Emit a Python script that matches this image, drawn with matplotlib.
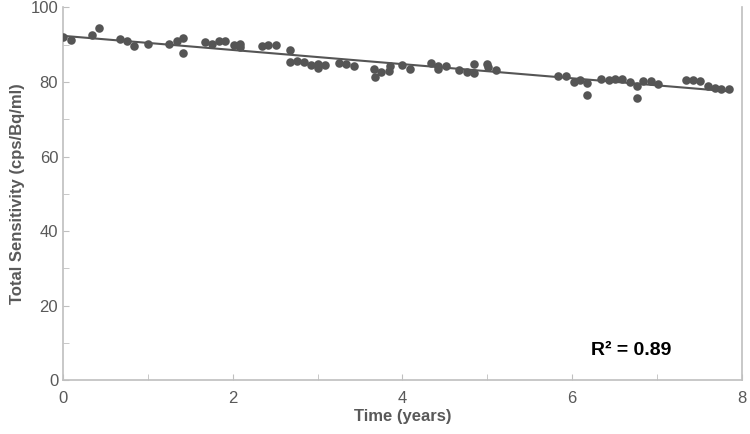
import numpy as np
import matplotlib.pyplot as plt
from matplotlib.ticker import MultipleLocator

plt.rcParams['font.family'] = ['Liberation Sans Narrow', 'Liberation Sans', 'DejaVu Sans']

# ── data ─────────────────────────────────────────────────────────────────────
time_years = [0.00, 0.09, 0.34, 0.42, 0.67, 0.75, 0.84, 1.00, 1.25, 1.34,
              1.42, 1.42, 1.67, 1.76, 1.84, 1.91, 2.01, 2.09, 2.09, 2.34,
              2.42, 2.51, 2.67, 2.67, 2.76, 2.84, 2.92, 3.00, 3.01, 3.09,
              3.25, 3.34, 3.43, 3.67, 3.68, 3.75, 3.84, 3.85, 4.00, 4.09,
              4.34, 4.42, 4.42, 4.51, 4.67, 4.76, 4.84, 4.85, 5.00, 5.01,
              5.10, 5.84, 5.93, 6.02, 6.09, 6.18, 6.18, 6.34, 6.43, 6.51,
              6.59, 6.68, 6.76, 6.76, 6.84, 6.93, 7.01, 7.34, 7.43, 7.51,
              7.60, 7.68, 7.76, 7.85]
sensitivity = [92.0, 91.2, 92.6, 94.6, 91.5, 91.0, 89.6, 90.3, 90.2, 91.1,
               91.7, 87.8, 90.7, 90.1, 90.9, 90.9, 89.9, 90.3, 89.4, 89.7,
               89.9, 89.8, 88.5, 85.4, 85.6, 85.4, 84.6, 84.9, 83.8, 84.5,
               85.2, 84.9, 84.4, 83.5, 81.4, 82.6, 83.0, 84.2, 84.5, 83.6,
               85.0, 84.4, 83.5, 84.3, 83.3, 82.6, 84.7, 82.4, 84.9, 84.1,
               83.3, 81.5, 81.7, 80.0, 80.5, 79.6, 76.5, 80.8, 80.5, 80.9,
               80.7, 79.9, 79.0, 75.8, 80.3, 80.2, 79.4, 80.5, 80.4, 80.2,
               78.8, 78.5, 78.0, 78.0]
r2_label = "R\u00b2 = 0.89"

x = np.array(time_years)
y = np.array(sensitivity)
slope, intercept = np.polyfit(x, y, 1)
fit_x = np.array([x.min(), x.max()])

GREY = "#595959"
AXIS = "#bfbfbf"

fig = plt.figure(figsize=(7.5, 4.34), dpi=100)
ax = fig.add_axes([0.084, 0.124, 0.905, 0.859])

ax.scatter(x, y, s=38, color="#555555", zorder=3, linewidths=0)
ax.plot(fit_x, slope * fit_x + intercept, color="#555555", lw=1.5, zorder=2)

ax.set_xlim(0, 8)
ax.set_ylim(0, 100)
ax.xaxis.set_major_locator(MultipleLocator(2))
ax.xaxis.set_minor_locator(MultipleLocator(1))
ax.yaxis.set_major_locator(MultipleLocator(20))
ax.yaxis.set_minor_locator(MultipleLocator(10))
ax.tick_params(which="both", direction="in", color=AXIS, labelcolor=GREY,
               labelsize=12, length=4)
ax.tick_params(axis="x", pad=8)

ax.spines["top"].set_visible(False)
for side in ["left", "bottom", "right"]:
    ax.spines[side].set_color(AXIS)
    ax.spines[side].set_linewidth(1.2)

ax.set_xlabel("Time (years)", fontsize=12, fontweight="bold", color=GREY, labelpad=2)
ax.set_ylabel("Total Sensitivity (cps/Bq/ml)", fontsize=12, fontweight="bold",
              color=GREY, labelpad=4)

ax.text(6.7, 8, r2_label, ha="center", va="center", fontsize=14,
        fontweight="bold", color="black")

plt.savefig("out.png", dpi=100)
plt.close()
